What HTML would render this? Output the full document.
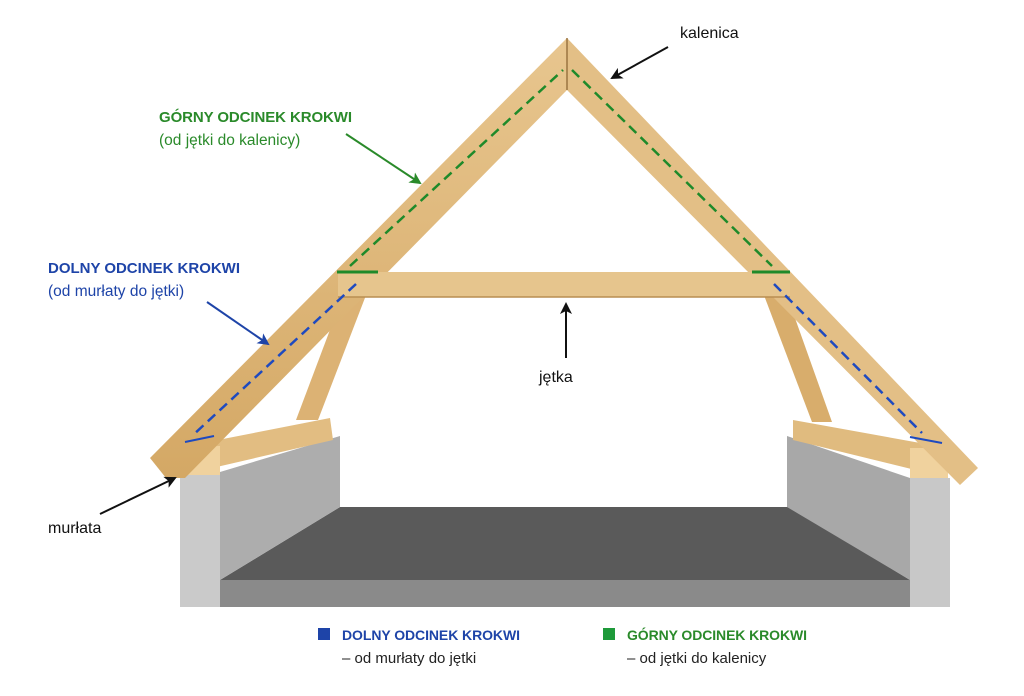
<!DOCTYPE html>
<html><head><meta charset="utf-8"><style>html,body{margin:0;padding:0;background:#fff}svg{display:block}text{font-family:"Liberation Sans",sans-serif}</style></head><body>
<svg width="1024" height="696" viewBox="0 0 1024 696" xmlns="http://www.w3.org/2000/svg">
<defs>
<linearGradient id="wd" x1="0" y1="0" x2="0" y2="1"><stop offset="0" stop-color="#e8c68f"/><stop offset="1" stop-color="#d4a865"/></linearGradient>
<marker id="ak" markerWidth="12" markerHeight="12" refX="10" refY="6" orient="auto" markerUnits="userSpaceOnUse"><path d="M0,0 L12,6 L0,12 L3,6z" fill="#111"/></marker>
<marker id="ag" markerWidth="12" markerHeight="12" refX="10" refY="6" orient="auto" markerUnits="userSpaceOnUse"><path d="M0,0 L12,6 L0,12 L3,6z" fill="#2a8a2a"/></marker>
<marker id="ab" markerWidth="12" markerHeight="12" refX="10" refY="6" orient="auto" markerUnits="userSpaceOnUse"><path d="M0,0 L12,6 L0,12 L3,6z" fill="#1e44a8"/></marker>
</defs>
<!-- floor -->
<polygon points="340,507 790,507 910,580 220,580" fill="#5a5a5a"/>
<rect x="220" y="580" width="690" height="27" fill="#8a8a8a"/>
<!-- left wall -->
<polygon points="220,472 340,436 340,507 220,580" fill="#adadad"/>
<rect x="180" y="475" width="40" height="132" fill="#cacaca"/>
<!-- right wall -->
<polygon points="787,436 910,478 910,580 787,507" fill="#a8a8a8"/>
<rect x="910" y="478" width="40" height="129" fill="#c8c8c8"/>
<!-- struts -->
<polygon points="345,290 368,290 318,420 296,420" fill="#dcb274"/>
<polygon points="762,290 785,290 832,422 812,422" fill="#d8ad6c"/>
<!-- plates -->
<polygon points="182,447 330,418 333,440 182,475" fill="#e2bd82"/>
<polygon points="182,447 220,446 220,475 182,475" fill="#f0d29e"/>
<polygon points="793,420 948,448 948,478 793,440" fill="#e0bb7f"/>
<polygon points="910,448 948,448 948,478 910,478" fill="#f0d29e"/>
<!-- rafters -->
<polygon points="150,458 567,38 567,90 185,478 166,478" fill="url(#wd)"/>
<polygon points="567,38 978,468 960,485 567,90" fill="#e3bf86"/>
<line x1="567" y1="38" x2="567" y2="90" stroke="#9a7440" stroke-width="1.5"/>
<!-- collar -->
<rect x="338" y="272" width="452" height="25" fill="#e6c58d"/>
<line x1="338" y1="297" x2="790" y2="297" stroke="#b98e52" stroke-width="1.5"/>
<!-- dashed lines -->
<line x1="350" y1="266" x2="563" y2="70" stroke="#1e8a2a" stroke-width="2.5" stroke-dasharray="10,6"/>
<line x1="572" y1="70" x2="772" y2="266" stroke="#1e8a2a" stroke-width="2.5" stroke-dasharray="10,6"/>
<line x1="337" y1="272" x2="378" y2="272" stroke="#1e8a2a" stroke-width="3"/>
<line x1="752" y1="272" x2="790" y2="272" stroke="#1e8a2a" stroke-width="3"/>
<line x1="356" y1="284" x2="192" y2="436" stroke="#1e4ac0" stroke-width="2.5" stroke-dasharray="10,6"/>
<line x1="185" y1="442" x2="214" y2="436" stroke="#1e4ac0" stroke-width="2"/>
<line x1="774" y1="284" x2="922" y2="433" stroke="#1e4ac0" stroke-width="2.5" stroke-dasharray="10,6"/>
<line x1="910" y1="437" x2="942" y2="443" stroke="#1e4ac0" stroke-width="2"/>
<!-- arrows -->
<line x1="668" y1="47" x2="612" y2="78" stroke="#111" stroke-width="2" marker-end="url(#ak)"/>
<line x1="346" y1="134" x2="420" y2="183" stroke="#2a8a2a" stroke-width="2" marker-end="url(#ag)"/>
<line x1="207" y1="302" x2="268" y2="344" stroke="#1e44a8" stroke-width="2" marker-end="url(#ab)"/>
<line x1="566" y1="358" x2="566" y2="304" stroke="#111" stroke-width="2" marker-end="url(#ak)"/>
<line x1="100" y1="514" x2="175" y2="478" stroke="#111" stroke-width="2" marker-end="url(#ak)"/>
<!-- labels -->
<text x="680" y="38" font-size="16" fill="#111">kalenica</text>
<text x="159" y="122" font-size="15" font-weight="bold" fill="#2a8a2a" textLength="193">GÓRNY ODCINEK KROKWI</text>
<text x="159" y="145" font-size="15.5" fill="#2a8a2a">(od jętki do kalenicy)</text>
<text x="48" y="273" font-size="15" font-weight="bold" fill="#1e44a8" textLength="192">DOLNY ODCINEK KROKWI</text>
<text x="48" y="296" font-size="15.5" fill="#1e44a8">(od murłaty do jętki)</text>
<text x="539" y="382" font-size="16" fill="#111">jętka</text>
<text x="48" y="533" font-size="16" fill="#111">murłata</text>
<rect x="318" y="628" width="12" height="12" fill="#1e44a8"/>
<text x="342" y="640" font-size="14" font-weight="bold" fill="#1e44a8" textLength="178">DOLNY ODCINEK KROKWI</text>
<text x="342" y="663" font-size="15" fill="#222">– od murłaty do jętki</text>
<rect x="603" y="628" width="12" height="12" fill="#1e9a3a"/>
<text x="627" y="640" font-size="14" font-weight="bold" fill="#2a8a2a" textLength="180">GÓRNY ODCINEK KROKWI</text>
<text x="627" y="663" font-size="15" fill="#222">– od jętki do kalenicy</text>
</svg>
</body></html>
